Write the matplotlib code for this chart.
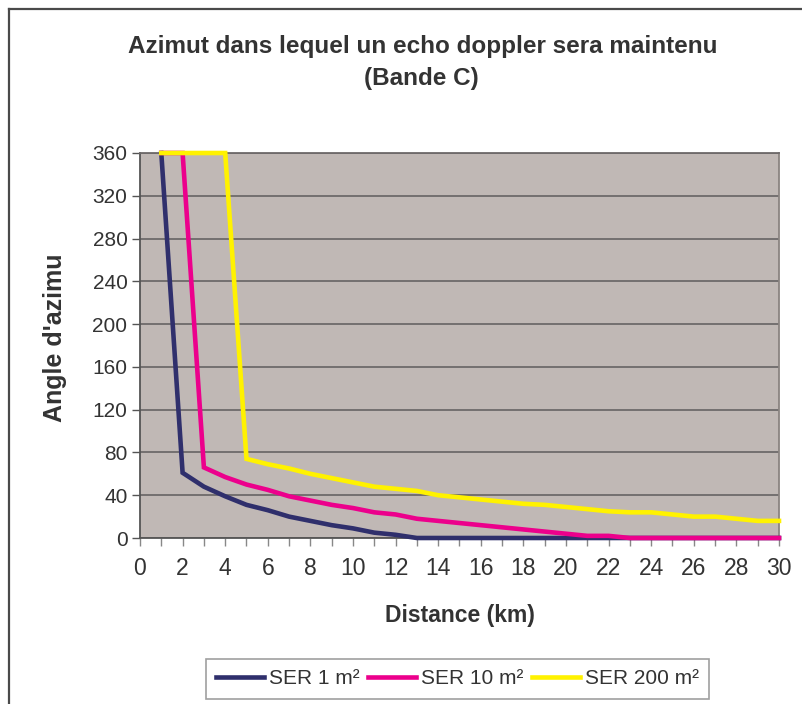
import matplotlib
matplotlib.use("Agg")
import matplotlib.pyplot as plt
from matplotlib.lines import Line2D

plt.rcParams['font.family'] = ['Liberation Sans', 'DejaVu Sans']

# Distance (km) and azimuth angle (degrees) for each radar cross-section
distance_km = list(range(1, 31))
ser_1 = [360, 61, 48, 39, 31, 26, 20, 16, 12, 9, 5, 3, 0, 0, 0,
         0, 0, 0, 0, 0, 0, 0, 0, 0, 0, 0, 0, 0, 0, 0]
ser_10 = [360, 360, 66, 57, 50, 45, 39, 35, 31, 28, 24, 22, 18, 16, 14,
          12, 10, 8, 6, 4, 2, 2, 0, 0, 0, 0, 0, 0, 0, 0]
ser_200 = [360, 360, 360, 360, 74, 69, 65, 60, 56, 52, 48, 46, 44, 40, 38,
           36, 34, 32, 31, 29, 27, 25, 24, 24, 22, 20, 20, 18, 16, 16]
series_labels = ["SER 1 m²", "SER 10 m²", "SER 200 m²"]
series_colors = ["#2F2F6C", "#EC008C", "#FFF200"]

y_ticks = list(range(0, 361, 40))
x_ticks = list(range(0, 31))

W, H = 803, 704
fig = plt.figure(figsize=(W / 100, H / 100), dpi=100)
fig.patch.set_facecolor("white")

# plot area in pixel terms
left, right, top, bottom = 140, 779, 153, 538
pw, ph = right - left, bottom - top
ax = fig.add_axes([left / W, (H - bottom) / H, pw / W, ph / H])
ax.set_facecolor("#C0B8B5")

for ys, lab, col in zip([ser_1, ser_10, ser_200], series_labels, series_colors):
    ax.plot(distance_km, ys, color=col, lw=3.3, label=lab, solid_joinstyle="miter",
            clip_on=False, zorder=3)

ax.set_xlim(0, 30)
ax.set_ylim(0, 360)
ax.set_yticks(y_ticks)
ax.set_yticklabels([str(v) for v in y_ticks])
ax.set_xticks(x_ticks)
ax.set_xticklabels([str(v) if v % 2 == 0 else "" for v in x_ticks])

ax.yaxis.grid(True, color="#6E6A6A", lw=1.3)
ax.set_axisbelow(True)
for s in ["left", "bottom"]:
    ax.spines[s].set_color("#555555")
    ax.spines[s].set_linewidth(1.3)
ax.spines["right"].set_color("#8A8380")
ax.spines["right"].set_linewidth(1.3)
ax.spines["top"].set_color("#6E6A6A")
ax.spines["top"].set_linewidth(1.3)

ax.tick_params(axis="y", direction="out", length=6, width=1, color="#555555",
               labelsize=15, labelcolor="#333333", pad=3)
ax.tick_params(axis="x", direction="out", length=6, width=1, color="#888888",
               labelsize=16.5, labelcolor="#333333", pad=8)

ax.set_xlabel("Distance (km)", fontsize=16.5, fontweight="bold", color="#333333")
ax.xaxis.set_label_coords(0.5, -(604 - bottom) / ph)
ax.set_ylabel("Angle d'azimu", fontsize=18, fontweight="bold", color="#333333")
ax.yaxis.set_label_coords(-(left - 67) / pw, (bottom - 338) / ph)

fig.text(423 / W, 1 - 46 / H, "Azimut dans lequel un echo doppler sera maintenu",
         ha="center", va="center", fontsize=17.5, fontweight="bold", color="#333333")
fig.text(421 / W, 1 - 78 / H, "(Bande C)", ha="center", va="center",
         fontsize=17.5, fontweight="bold", color="#333333")

leg = fig.legend(loc="center", bbox_to_anchor=(457.5 / W, 1 - 679 / H), ncol=3,
                 fontsize=15, frameon=True, fancybox=False, edgecolor="#888888",
                 handlelength=2.3, handletextpad=0.25, columnspacing=0.4,
                 borderpad=0.5, borderaxespad=0)
leg.get_frame().set_linewidth(1.2)
for t in leg.get_texts():
    t.set_color("#333333")

# outer chart frame (open on the right and bottom edges)
fig.add_artist(Line2D([9.5 / W, 9.5 / W], [0, 1 - 8.5 / H], transform=fig.transFigure,
                      color="#4A4A4A", lw=1.6))
fig.add_artist(Line2D([9.5 / W, 1], [1 - 8.5 / H, 1 - 8.5 / H], transform=fig.transFigure,
                      color="#4A4A4A", lw=1.6))

fig.savefig("out.png", dpi=100)
